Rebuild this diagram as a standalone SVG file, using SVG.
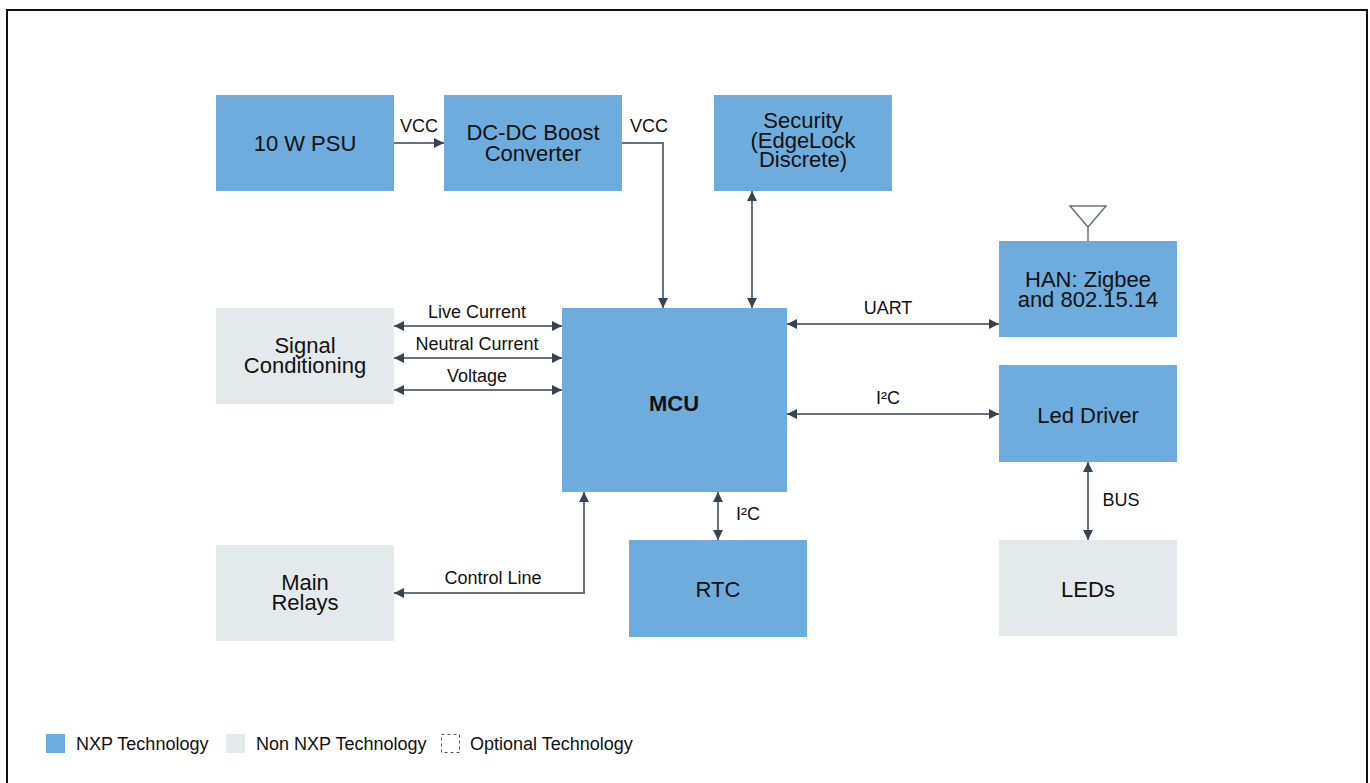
<svg xmlns="http://www.w3.org/2000/svg" width="1370" height="783" viewBox="0 0 1370 783">
<style>
.nxp{fill:#6eacdd}
.non{fill:#e4e9ec}
.t{font-family:"Liberation Sans",Arial,sans-serif;font-size:22px;fill:#111;text-anchor:middle}
.b{font-weight:bold}
.l{font-family:"Liberation Sans",Arial,sans-serif;font-size:18px;fill:#111;text-anchor:middle}
.lg{font-family:"Liberation Sans",Arial,sans-serif;font-size:18px;fill:#111}
.c{fill:none;stroke:#68737c;stroke-width:2}
</style>
<defs>
<marker id="ae" viewBox="0 0 10 10" refX="10" refY="5" markerWidth="10" markerHeight="10" markerUnits="userSpaceOnUse" orient="auto">
<path d="M0,0 L10,5 L0,10 Z" fill="#37434e"/>
</marker>
<marker id="as" viewBox="0 0 10 10" refX="0" refY="5" markerWidth="10" markerHeight="10" markerUnits="userSpaceOnUse" orient="auto">
<path d="M10,0 L0,5 L10,10 Z" fill="#37434e"/>
</marker>
</defs>
<rect width="1370" height="783" fill="#fff"/>
<path d="M7,783 V10 H1367 V783" fill="none" stroke="#111" stroke-width="2"/>

<g id="psu"><rect class="nxp" x="216" y="95" width="178" height="96"/><text class="t" x="305" y="151">10 W PSU</text></g>
<g id="dcdc"><rect class="nxp" x="444" y="95" width="178" height="96"/><text class="t" x="533" y="140">DC-DC Boost</text><text class="t" x="533" y="161">Converter</text></g>
<g id="security"><rect class="nxp" x="714" y="95" width="178" height="96"/><text class="t" x="803" y="128">Security</text><text class="t" x="803" y="148">(EdgeLock</text><text class="t" x="803" y="167">Discrete)</text></g>
<g id="han"><rect class="nxp" x="999" y="241" width="178" height="96"/><path d="M1070,206 H1106 L1088,227 Z M1088,227 V241" fill="none" stroke="#68737c" stroke-width="1.5"/><text class="t" x="1088" y="287">HAN: Zigbee</text><text class="t" x="1088" y="307">and 802.15.14</text></g>
<g id="signal"><rect class="non" x="216" y="308" width="178" height="96"/><text class="t" x="305" y="353">Signal</text><text class="t" x="305" y="373">Conditioning</text></g>
<g id="mcu"><rect class="nxp" x="562" y="308" width="225" height="184"/><text class="t b" x="674" y="411">MCU</text></g>
<g id="leddriver"><rect class="nxp" x="999" y="365" width="178" height="97"/><text class="t" x="1088" y="423">Led Driver</text></g>
<g id="rtc"><rect class="nxp" x="629" y="540" width="178" height="97"/><text class="t" x="718" y="597">RTC</text></g>
<g id="leds"><rect class="non" x="999" y="540" width="178" height="96"/><text class="t" x="1088" y="597">LEDs</text></g>
<g id="relays"><rect class="non" x="216" y="545" width="178" height="96"/><text class="t" x="305" y="590">Main</text><text class="t" x="305" y="610">Relays</text></g>

<g id="connectors">
<path class="c" d="M394,143 H444" marker-end="url(#ae)"/>
<text class="l" x="419" y="132">VCC</text>
<path class="c" d="M622,143 H663 V308" marker-end="url(#ae)"/>
<text class="l" x="649" y="132">VCC</text>
<path class="c" d="M752,191 V308" marker-start="url(#as)" marker-end="url(#ae)"/>
<path class="c" d="M787,324 H999" marker-start="url(#as)" marker-end="url(#ae)"/>
<text class="l" x="888" y="314">UART</text>
<path class="c" d="M394,326 H562" marker-start="url(#as)" marker-end="url(#ae)"/>
<text class="l" x="477" y="318">Live Current</text>
<path class="c" d="M394,358 H562" marker-start="url(#as)" marker-end="url(#ae)"/>
<text class="l" x="477" y="350">Neutral Current</text>
<path class="c" d="M394,390 H562" marker-start="url(#as)" marker-end="url(#ae)"/>
<text class="l" x="477" y="382">Voltage</text>
<path class="c" d="M787,414 H999" marker-start="url(#as)" marker-end="url(#ae)"/>
<text class="l" x="888" y="404">I²C</text>
<path class="c" d="M718,492 V540" marker-start="url(#as)" marker-end="url(#ae)"/>
<text class="l" x="748" y="520">I²C</text>
<path class="c" d="M394,593 H584 V492" marker-start="url(#as)" marker-end="url(#ae)"/>
<text class="l" x="493" y="584">Control Line</text>
<path class="c" d="M1088,462 V540" marker-start="url(#as)" marker-end="url(#ae)"/>
<text class="l" x="1121" y="506">BUS</text>
</g>

<g id="legend">
<rect class="nxp" x="46" y="734" width="19" height="19"/>
<text class="lg" x="76" y="750">NXP Technology</text>
<rect class="non" x="226" y="734" width="19" height="19"/>
<text class="lg" x="256" y="750">Non NXP Technology</text>
<rect x="441.5" y="734.5" width="18" height="18" fill="none" stroke="#555" stroke-width="1" stroke-dasharray="3,3"/>
<text class="lg" x="470" y="750">Optional Technology</text>
</g>
</svg>
